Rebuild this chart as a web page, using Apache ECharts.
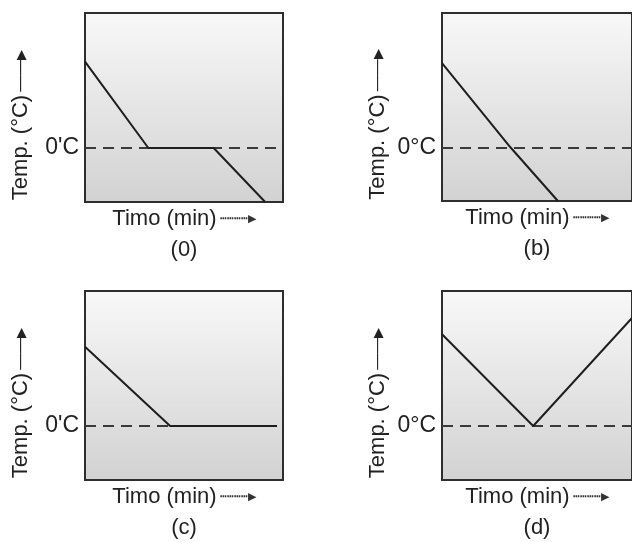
<!DOCTYPE html>
<html>
<head>
<meta charset="utf-8">
<script src="https://cdn.jsdelivr.net/npm/echarts@6/dist/echarts.min.js"></script>
<style>
  html, body { margin: 0; padding: 0; background: #fff; }
  #main { width: 632px; height: 542px; }
</style>
</head>
<body>
<div id="main"></div>
<script>
// panel captions and the label printed at the 0 line
var panelNames = ['(0)', '(b)', '(c)', '(d)'];
var zeroLabels = ["0'C", '0°C', "0'C", '0°C'];

// time (arbitrary units 0..100) and temperature for each panel
var timeA = [0, 32, 65, 91];
var tempA = [48, 0, 0, -30];
var timeB = [0, 36, 61];
var tempB = [47, 0, -30];
var timeC = [0, 43, 97];
var tempC = [44, 0, 0];
var timeD = [0, 48, 100];
var tempD = [51, 0, 60];

var tempMin = -30, tempMax = 75, tempStep = 15;

function main() {
    var myChart = echarts.init(document.getElementById('main'));
    var font = 'Liberation Sans, Arial, sans-serif';
    var times = [timeA, timeB, timeC, timeD];
    var temps = [tempA, tempB, tempC, tempD];
    var boxes = [
        {left: 85, top: 13, width: 198, height: 189},
        {left: 442, top: 13, width: 198, height: 188},
        {left: 85, top: 291, width: 198, height: 189},
        {left: 442, top: 291, width: 198, height: 189}
    ];

    var grid = [], xAxis = [], yAxis = [], series = [];
    for (var i = 0; i < 4; i++) {
        grid.push({
            left: boxes[i].left, top: boxes[i].top,
            width: boxes[i].width, height: boxes[i].height,
            show: true,
            borderColor: '#2e2e2e',
            borderWidth: 2,
            backgroundColor: new echarts.graphic.LinearGradient(0, 0, 0, 1, [
                {offset: 0, color: '#f8f8f8'},
                {offset: 1, color: '#d2d2d2'}
            ])
        });
        xAxis.push({
            type: 'value', gridIndex: i, min: 0, max: 100,
            axisLine: {show: false}, axisTick: {show: false},
            axisLabel: {show: false}, splitLine: {show: false},
            name: '{t|Timo (min)}{d|┅┅┅┅}{h|▶}\n{p|' + panelNames[i] + '}',
            nameLocation: 'middle',
            nameGap: 3,
            nameTextStyle: {
                rich: {
                    t: {fontFamily: font, fontSize: 22, color: '#222', lineHeight: 28},
                    d: {fontFamily: font, fontSize: 11, color: '#333', lineHeight: 28, padding: [0, 0, 0, 3]},
                    h: {fontFamily: font, fontSize: 11, color: '#333', lineHeight: 28},
                    p: {fontFamily: font, fontSize: 22, color: '#222', lineHeight: 34}
                }
            }
        });
        yAxis.push({
            type: 'value', gridIndex: i,
            min: tempMin, max: tempMax, interval: tempStep,
            axisLine: {show: false}, axisTick: {show: false},
            splitLine: {show: false},
            axisLabel: {
                fontFamily: font, fontSize: 23, color: '#222', margin: 6,
                padding: [3, 0, 0, 0],
                formatter: (function (lab) {
                    return function (v) { return v === 0 ? lab : ''; };
                })(zeroLabels[i])
            },
            name: '{t|Temp. (°C)}{a|——}{h|▶}',
            nameLocation: 'middle',
            nameRotate: 90,
            nameGap: 53,
            nameTextStyle: {
                padding: [0, 35, 0, 0],
                rich: {
                    t: {fontFamily: font, fontSize: 22, color: '#222'},
                    a: {fontFamily: font, fontSize: 16, color: '#222', padding: [0, 0, 0, 3]},
                    h: {fontFamily: font, fontSize: 13, color: '#222'}
                }
            }
        });
        var pts = [];
        for (var k = 0; k < times[i].length; k++) {
            pts.push([times[i][k], temps[i][k]]);
        }
        series.push({
            type: 'line', xAxisIndex: i, yAxisIndex: i,
            data: pts, symbol: 'none', silent: true, z: 5,
            lineStyle: {color: '#1e1e1e', width: 2},
            markLine: {
                silent: true, symbol: 'none', label: {show: false},
                lineStyle: {color: '#3a3a3a', width: 2, type: [11, 7]},
                data: [{yAxis: 0}]
            }
        });
    }

    var option = {
        backgroundColor: '#fff',
        animation: false,
        grid: grid,
        xAxis: xAxis,
        yAxis: yAxis,
        series: series
    };

    myChart.setOption(option);
}

main();
</script>
</body>
</html>
